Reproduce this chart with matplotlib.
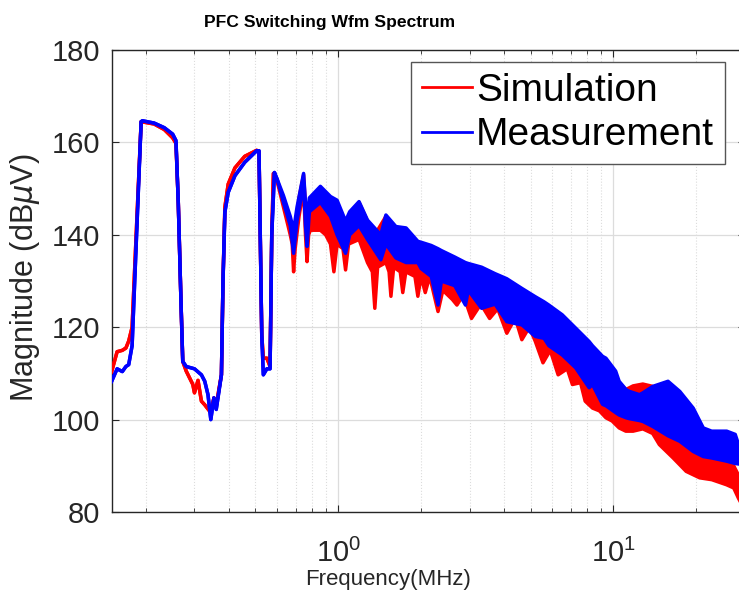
import matplotlib
matplotlib.use("Agg")
import matplotlib.pyplot as plt
from matplotlib.ticker import LogLocator, NullFormatter

plt.rcParams['font.family'] = ['Liberation Sans', 'DejaVu Sans']
plt.rcParams['mathtext.default'] = 'regular'

# simulation (red): frequency in MHz, upper / lower edge of the trace in dBuV
sim_f = [0.150, 0.157, 0.164, 0.169, 0.173, 0.178, 0.192, 0.214, 0.233, 0.250,
         0.257, 0.262, 0.268, 0.272, 0.280, 0.296, 0.300, 0.309, 0.318, 0.327,
         0.344, 0.353, 0.360, 0.368, 0.376, 0.381, 0.387, 0.398, 0.421, 0.457,
         0.505, 0.515, 0.527, 0.534, 0.550, 0.565, 0.573, 0.581, 0.600, 0.632,
         0.669, 0.680, 0.688, 0.697, 0.720, 0.748, 0.760, 0.770, 0.780, 0.792,
         0.861, 0.900, 0.937, 0.964, 0.990, 1.04, 1.063, 1.09, 1.19, 1.277,
         1.33, 1.358, 1.39, 1.49, 1.53, 1.554, 1.59, 1.68, 1.716, 1.76,
         1.90, 1.947, 2.00, 2.071, 2.15, 2.305, 2.40, 2.60, 2.70, 2.85,
         3.05, 3.30, 3.55, 3.80, 4.10, 4.40, 4.65, 4.95, 5.20, 5.55,
         5.90, 6.30, 6.80, 7.10, 7.60, 7.90, 8.40, 8.90, 9.40, 9.90,
         10.5, 11.1, 11.8, 12.8, 13.9, 14.7, 16.5, 18.4, 20.6, 22.8,
         25.8, 27.4, 28.5, 30.0]
sim_hi = [110.4, 114.7, 115.0, 115.5, 117.0, 120.0, 164.5, 164.0, 162.8, 161.0,
          159.8, 147.0, 125.5, 112.6, 110.5, 107.6, 105.8, 108.5, 104.0, 103.2,
          101.5, 104.7, 103.0, 106.5, 109.7, 130.0, 146.0, 151.0, 154.5, 157.0,
          158.3, 158.0, 118.3, 113.3, 113.3, 111.5, 140.0, 153.3, 151.5, 148.0,
          143.0, 141.0, 139.0, 141.0, 148.0, 153.0, 146.0, 140.0, 145.0, 148.0,
          150.0, 148.0, 147.0, 143.0, 145.0, 143.0, 141.0, 143.0, 147.0, 143.0,
          140.0, 139.0, 141.0, 144.0, 142.0, 141.0, 141.0, 139.0, 138.0, 139.0,
          137.0, 136.0, 137.0, 136.0, 136.5, 135.5, 135.0, 134.0, 134.0, 133.0,
          132.5, 132.0, 131.0, 130.5, 129.5, 128.5, 127.5, 126.5, 125.8, 124.5,
          123.5, 122.0, 120.5, 119.5, 118.0, 117.0, 115.5, 114.0, 112.5, 111.0,
          108.0, 106.5, 107.3, 107.7, 107.2, 106.0, 103.0, 99.0, 96.0, 94.0,
          92.0, 90.0, 88.0, 85.0]
sim_lo = [110.4, 114.7, 115.0, 115.5, 117.0, 120.0, 164.5, 164.0, 162.8, 161.0,
          159.8, 147.0, 125.5, 112.6, 110.5, 107.6, 105.8, 108.5, 104.0, 103.2,
          101.5, 104.7, 103.0, 106.5, 109.7, 130.0, 146.0, 151.0, 154.5, 157.0,
          158.3, 158.0, 118.3, 113.3, 113.3, 111.5, 140.0, 153.3, 151.5, 146.0,
          140.0, 138.0, 132.0, 137.0, 144.0, 150.0, 140.0, 134.2, 140.0, 141.0,
          141.0, 140.0, 138.0, 132.0, 138.0, 137.0, 132.4, 138.0, 139.0, 134.0,
          132.0, 124.1, 133.0, 134.0, 132.0, 126.7, 133.0, 132.0, 127.5, 132.0,
          131.0, 126.7, 131.0, 127.5, 131.0, 123.4, 128.0, 126.0, 124.8, 127.0,
          121.9, 125.0, 121.9, 124.0, 118.7, 122.0, 117.3, 120.0, 117.0, 112.3,
          115.0, 109.7, 111.0, 107.6, 108.0, 104.0, 102.5, 101.9, 100.4, 99.7,
          98.2, 97.5, 97.5, 98.0, 97.0, 94.6, 91.7, 88.8, 87.4, 87.0,
          85.9, 85.2, 83.0, 80.5]

# measurement (blue)
meas_f = [0.150, 0.157, 0.164, 0.169, 0.173, 0.178, 0.192, 0.194, 0.214, 0.233,
          0.250, 0.257, 0.262, 0.268, 0.272, 0.280, 0.300, 0.318, 0.327, 0.336,
          0.344, 0.353, 0.360, 0.368, 0.376, 0.381, 0.387, 0.398, 0.421, 0.457,
          0.505, 0.515, 0.527, 0.534, 0.550, 0.565, 0.573, 0.586, 0.600, 0.632,
          0.669, 0.688, 0.708, 0.748, 0.760, 0.770, 0.785, 0.861, 0.937, 0.990,
          1.063, 1.10, 1.19, 1.277, 1.428, 1.49, 1.62, 1.764, 1.947, 2.00,
          2.178, 2.305, 2.37, 2.651, 2.90, 2.969, 3.32, 3.715, 4.10, 4.653,
          5.207, 5.60, 5.83, 6.52, 7.30, 8.17, 8.40, 9.14, 9.40, 10.2,
          10.5, 11.13, 11.45, 12.45, 12.81, 13.93, 15.81, 17.45, 19.52, 21.24,
          22.78, 25.85, 27.75, 29.34, 30.0]
meas_hi = [108.3, 111.0, 110.4, 111.5, 111.9, 116.0, 164.5, 164.7, 164.2, 163.2,
           161.8, 160.4, 147.0, 125.5, 112.6, 111.5, 111.0, 109.7, 108.3, 105.4,
           100.0, 104.7, 102.2, 106.0, 109.7, 130.0, 144.9, 149.2, 152.8, 155.7,
           158.2, 158.2, 118.3, 109.7, 111.0, 111.0, 140.0, 153.5, 152.0, 148.5,
           144.0, 141.0, 146.0, 153.3, 147.0, 143.0, 148.0, 150.5, 148.3, 147.5,
           143.0, 145.0, 147.2, 143.2, 140.0, 144.3, 141.8, 141.5, 138.6, 138.4,
           137.7, 137.0, 136.6, 135.2, 134.0, 133.8, 133.0, 131.6, 130.5, 128.4,
           126.6, 125.5, 124.8, 122.7, 119.8, 116.9, 116.0, 113.7, 113.3, 110.5,
           108.3, 106.5, 106.1, 105.4, 105.8, 107.2, 108.3, 106.1, 102.5, 98.2,
           97.5, 97.5, 96.8, 92.4, 91.5]
meas_lo = [108.3, 111.0, 110.4, 111.5, 111.9, 116.0, 164.5, 164.7, 164.2, 163.2,
           161.8, 160.4, 147.0, 125.5, 112.6, 111.5, 111.0, 109.7, 108.3, 105.4,
           100.0, 104.7, 102.2, 106.0, 109.7, 130.0, 144.9, 149.2, 152.8, 155.7,
           158.2, 158.2, 118.3, 109.7, 111.0, 111.0, 140.0, 153.5, 152.0, 147.0,
           142.0, 136.0, 143.0, 151.0, 142.0, 137.5, 145.0, 147.0, 144.0, 140.0,
           136.0, 140.0, 142.0, 139.0, 134.6, 138.0, 135.0, 134.0, 134.0, 132.7,
           131.0, 124.8, 130.0, 129.0, 124.8, 128.0, 124.1, 125.0, 121.2, 120.5,
           118.0, 117.6, 116.0, 114.0, 111.2, 106.9, 107.6, 103.3, 103.0, 101.5,
           101.0, 100.4, 100.2, 99.8, 99.6, 98.5, 96.5, 95.3, 93.1, 92.0,
           91.7, 91.0, 90.5, 90.3, 90.0]

fig = plt.figure(figsize=(7.39, 6.07), dpi=100)
ax = fig.add_axes([0.1511, 0.1565, 0.8564, 0.761])

lw = 2.5
ax.fill_between(sim_f, sim_lo, sim_hi, color='red', lw=0, zorder=2)
ax.plot(sim_f, sim_hi, color='red', lw=lw, label='Simulation', zorder=3)
ax.plot(sim_f, sim_lo, color='red', lw=lw, zorder=3)
ax.fill_between(meas_f, meas_lo, meas_hi, color='blue', lw=0, zorder=4)
ax.plot(meas_f, meas_hi, color='blue', lw=lw, label='Measurement', zorder=5)
ax.plot(meas_f, meas_lo, color='blue', lw=lw, zorder=5)

ax.set_xscale('log')
ax.set_xlim(0.15, 30)
ax.set_ylim(80, 180)
ax.set_yticks([80, 100, 120, 140, 160, 180])
ax.xaxis.set_minor_locator(LogLocator(base=10, subs=range(2, 10)))
ax.xaxis.set_minor_formatter(NullFormatter())

gray = '#262626'
ax.grid(True, which='major', color='#dcdcdc', lw=0.9)
ax.grid(True, which='minor', axis='x', color='#dcdcdc', lw=0.8, ls=':')
ax.set_axisbelow(True)
ax.tick_params(which='both', direction='in', top=True, right=True, colors=gray,
               labelsize=21, labelcolor=gray)
ax.tick_params(which='major', length=5)
ax.tick_params(which='minor', length=3)
ax.tick_params(axis='x', which='major', pad=19)
ax.tick_params(axis='y', which='major', pad=8)
for s in ax.spines.values():
    s.set_color(gray)
    s.set_linewidth(1.0)

ax.set_xlabel('Frequency(MHz)', fontsize=16, color=gray)
ax.xaxis.set_label_coords((388 - 111.7) / 632.9, (512 - 569) / 462.0)
ax.set_ylabel(r'Magnitude (dB$\mathit{\mu}$V)', fontsize=22, color=gray)
ax.yaxis.set_label_coords((42 - 111.7) / 632.9, (512 - 278) / 462.0)
fig.text(330 / 739, 1 - 22 / 607, 'PFC Switching Wfm Spectrum', fontsize=12.6,
         fontweight='bold', ha='center', va='center')

leg = ax.legend(loc='upper right', bbox_to_anchor=(725 / 739, 1 - 62 / 607),
                bbox_transform=fig.transFigure, borderaxespad=0, fontsize=28,
                fancybox=False, framealpha=1, edgecolor='#555555', handlelength=1.3,
                handletextpad=0.1, borderpad=0.28, labelspacing=0.22)
leg.get_frame().set_linewidth(1.0)
for h in leg.get_lines():
    h.set_linewidth(2.0)
leg.set_zorder(10)

fig.savefig('out.png', dpi=100)
